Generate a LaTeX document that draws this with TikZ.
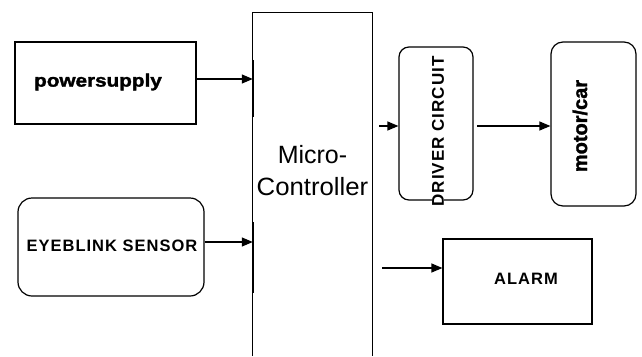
\documentclass[tikz,border=0pt]{standalone}
\usepackage{fontspec}
\setmainfont{Liberation Sans}
\newfontfamily\heavyfont[FakeBold=1.6]{Liberation Sans Bold}
\newfontfamily\widefont[LetterSpace=6]{Liberation Sans Bold}
\usetikzlibrary{arrows.meta}
\begin{document}
\begin{tikzpicture}[x=1pt,y=-1pt,
  box/.style={draw, line width=1.2pt, rectangle, inner sep=0pt},
  rbox/.style={box, rounded corners=#1},
  lbl/.style={font=\fontsize{16.5}{18}\widefont, inner sep=1pt},
  arr/.style={line width=1.2pt, -{Triangle[length=11pt,width=9pt]}}]
\useasboundingbox (0,0) rectangle (642,356);
% boxes
\node[box, minimum width=181pt, minimum height=82pt] (ps) at (105.5,83) {};
\node[font=\fontsize{18}{20}\heavyfont] at (98,82) {\scalebox{1.15}[1]{powersupply}};
\node[rbox=14pt, minimum width=186pt, minimum height=98pt] (eye) at (111,247) {};
\node[lbl] at (112,246) {EYEBLINK SENSOR};
\node[minimum width=119pt, minimum height=343pt, inner sep=0pt] (mc) at (312.5,184.5) {};
\draw[line width=1.2pt] (mc.south west) -- (mc.north west) -- (mc.north east) -- (mc.south east);
\draw[line width=2.2pt] ([yshift=-47pt]mc.north west) -- ([yshift=-104pt]mc.north west);
\draw[line width=2.2pt] ([yshift=-209pt]mc.north west) -- ([yshift=-280pt]mc.north west);
\node[font=\fontsize{25}{32}\selectfont, align=center, inner sep=0pt] at (312.5,171) {Micro-\\\scalebox{1.03}[1]{Controller}};
\node[rbox=10pt, minimum width=74pt, minimum height=153pt] (drv) at (436,123.5) {};
\node[font=\fontsize{17}{19}\widefont, rotate=90, fill=white, inner xsep=3pt, inner ysep=0pt] at (438,131.5) {DRIVER CIRCUIT};
\node[rbox=12pt, minimum width=85pt, minimum height=164pt] (mot) at (593.5,124) {};
\node[font=\fontsize{20}{22}\heavyfont, rotate=90] at (580,126) {motor/car};
\node[box, minimum width=149pt, minimum height=85pt] (alm) at (517.5,281.5) {};
\node[lbl] at (526,279) {ALARM};
% connectors
\draw[arr] ([yshift=4pt]ps.east) -- ([yshift=4pt]ps.east -| mc.west);
\draw[arr] ([yshift=5pt]eye.east) -- ([yshift=5pt]eye.east -| mc.west);
\coordinate (d0) at (379,126);
\draw[arr] (d0) -- (d0 -| drv.west);
\coordinate (m0) at (477,126);
\draw[arr] (m0) -- (m0 -| mot.west);
\coordinate (a0) at (382,268);
\draw[arr] (a0) -- (a0 -| alm.west);
\end{tikzpicture}
\end{document}
